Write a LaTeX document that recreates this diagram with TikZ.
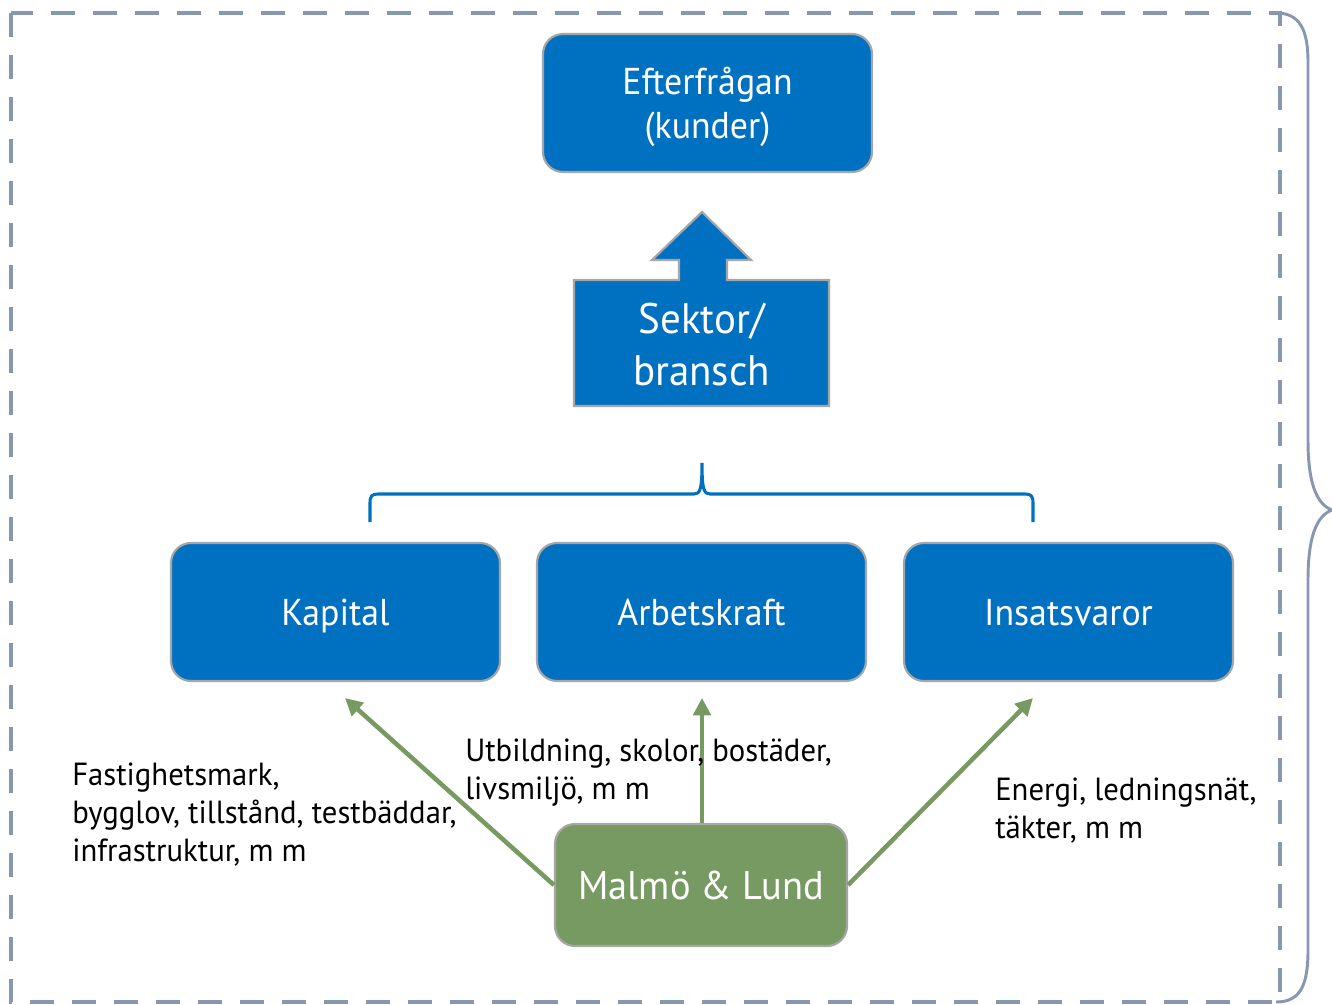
\documentclass[tikz,border=0pt]{standalone}
\usepackage{fontspec}
\setmainfont[FakeStretch=0.96]{PT Sans}
\usetikzlibrary{arrows.meta}
\definecolor{boxblue}{HTML}{0070C0}
\definecolor{boxgreen}{HTML}{779A62}
\definecolor{edgegray}{HTML}{A6A6A6}
\definecolor{framegray}{HTML}{8797B0}
\tikzset{
  bluebox/.style={draw=edgegray, line width=1.6pt, fill=boxblue, rounded corners=15pt,
    minimum width=246.75pt, minimum height=103.5pt, text=white, align=center,
    font=\fontsize{28}{33}\selectfont, inner sep=0pt},
  oneline/.style={align=none, text height=19.6pt, text depth=0pt},
  greenbox/.style={draw=edgegray, line width=1.6pt, fill=boxgreen, rounded corners=15pt,
    minimum width=219pt, minimum height=91.5pt, text=white,
    font=\fontsize{30}{38}\selectfont, inner sep=0pt},
  flow/.style={draw=boxgreen, line width=3.4pt, -{Triangle[length=13pt,width=13pt]}},
  note/.style={anchor=north west, align=left, inner sep=0pt,
    font=\fontsize{24}{28.5}\selectfont},
}
\begin{document}
\begin{tikzpicture}[x=0.75pt,y=-0.75pt]
\useasboundingbox (0,0) rectangle (1332,1005);

% dashed frame
\draw[framegray, line width=3.6pt, dash pattern=on 18pt off 13.5pt]
  (11,13) rectangle (1280,1002);
% right brace
\draw[framegray, line width=2.2pt]
  (1276,13) .. controls (1300,13) and (1308,30) .. (1308,62) -- (1308,440)
  .. controls (1308,482) and (1316,504) .. (1332,510)
  .. controls (1316,516) and (1308,538) .. (1308,580) -- (1308,950)
  .. controls (1308,986) and (1300,1002) .. (1276,1002);

% demand
\node[bluebox] (demand) at (707.5,103) {Efterfrågan\\\smash{(kunder)}};

% sector with upward arrow
\draw[draw=edgegray, line width=1.6pt, fill=boxblue]
  (574,280) -- (679,280) -- (679,260) -- (652,260) -- (702,212) -- (751,260)
  -- (727,260) -- (727,280) -- (829,280) -- (829,406) -- (574,406) -- cycle;
\node[text=white, align=center, font=\fontsize{32}{39}\selectfont, inner sep=0pt]
  (sector) at (701.5,345) {Sektor/\\bransch};

% bracket over the factors
\draw[boxblue, line width=2.3pt]
  (370,522) -- (370,503) .. controls (370,496) and (372,494) .. (378,494) -- (694,494)
  .. controls (700,494) and (702,490) .. (702,463)
  .. controls (702,490) and (704,494) .. (710,494) -- (1025,494)
  .. controls (1031,494) and (1033,496) .. (1033,503) -- (1033,522);

% production factors
\node[bluebox, oneline] (kapital) at (335.5,612) {Kapital};
\node[bluebox, oneline] (arbete) at (701.5,612) {Arbetskraft};
\node[bluebox, oneline] (insats) at (1068.5,612) {Insatsvaror};

% municipalities
\node[greenbox, oneline, text height=21pt] (malmo) at (701,885) {Malmö \& Lund};

\coordinate (tkap) at (345,698);
\coordinate (tarb) at (702,698);
\coordinate (tins) at (1033,698);
\draw[flow] (malmo.west) -- (tkap);
\draw[flow] (malmo.north -| tarb) -- (tarb);
\draw[flow] (malmo.east) -- (tins);

% notes
\node[note] (nkap) at (72,763) {Fastighetsmark,\\bygglov, tillstånd, testbäddar,\\infrastruktur, m m};
\node[note] (narb) at (465,739) {Utbildning, skolor, bostäder,\\livsmiljö, m m};
\node[note] (nins) at (995,778) {Energi, ledningsnät,\\täkter, m m};
\end{tikzpicture}
\end{document}
